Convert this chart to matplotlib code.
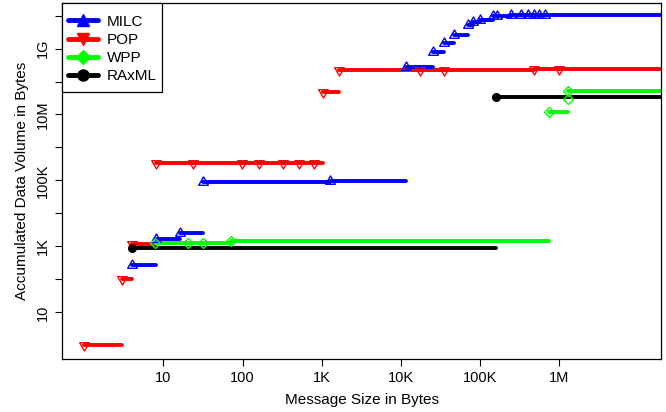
import matplotlib
matplotlib.use("Agg")
import matplotlib.pyplot as plt
import numpy as np
from matplotlib.lines import Line2D
from matplotlib.patches import Rectangle
from matplotlib.path import Path

plt.rcParams["font.family"] = ["Liberation Sans", "DejaVu Sans"]

# message size (bytes) where the accumulated volume steps up, and the volume after it
milc_size = [4, 8, 16, 32, 1270, 11.7e3, 25e3, 35e3, 47e3, 71e3, 82e3, 98e3,
             143e3, 163e3, 245e3, 325e3, 405e3, 480e3, 555e3, 660e3]
milc_volume = [275, 1.7e3, 2.6e3, 91e3, 93e3, 280e6, 790e6, 1.5e9, 2.6e9, 5.1e9,
               6.2e9, 7.2e9, 9.5e9, 1.0e10, 1.005e10, 1.01e10, 1.015e10, 1.02e10,
               1.025e10, 1.03e10]

pop_size = [1, 3, 4, 8.1, 23.9, 99, 161, 323, 523, 802, 1050, 1650,
            17.4e3, 35e3, 476e3, 980e3]
pop_volume = [1, 100, 1.2e3, 330e3, 332e3, 335e3, 338e3, 342e3, 346e3, 350e3,
              48e6, 224e6, 226e6, 228e6, 232e6, 236e6]

wpp_size = [7.9, 20.3, 32, 71, 745e3, 1.28e6, 1.3e6]
wpp_volume = [1.28e3, 1.3e3, 1.31e3, 1.5e3, 12e6, 30e6, 52e6]

raxml_size = [4, 157e3]
raxml_volume = [910, 35e6]

x_ticks = [10, 100, 1e3, 1e4, 1e5, 1e6]
x_labels = ["10", "100", "1K", "10K", "100K", "1M"]
y_ticks = [10.0 ** k for k in range(1, 11)]
y_labels = ["10", "", "1K", "", "100K", "", "10M", "", "1G", ""]

X_END = 1e8  # last step runs off the right edge

# R-style triangles: centre sits a third of the way up
tri_up = Path([(0, 1), (-0.866, -0.5), (0.866, -0.5), (0, 1)],
              [Path.MOVETO, Path.LINETO, Path.LINETO, Path.CLOSEPOLY])
tri_down = Path([(0, -1), (-0.866, 0.5), (0.866, 0.5), (0, -1)],
                [Path.MOVETO, Path.LINETO, Path.LINETO, Path.CLOSEPOLY])

series = [
    ("POP", pop_size, pop_volume, "#ff0000", tri_down, 8, "none"),
    ("MILC", milc_size, milc_volume, "#0000ff", tri_up, 8, "none"),
    ("WPP", wpp_size, wpp_volume, "#00ff00", "D", 5.5, "none"),
    ("RAxML", raxml_size, raxml_volume, "#000000", "o", 5.5, "#000000"),
]


def steps(xs, ys):
    # horizontal pieces only: each volume holds until the next size
    ends = list(xs[1:]) + [X_END]
    px, py = [], []
    for x0, x1, y in zip(xs, ends, ys):
        px += [x0, x1, np.nan]
        py += [y, y, np.nan]
    return px, py


fig = plt.figure(figsize=(6.66, 4.12), dpi=100)
ax = fig.add_axes([62.3 / 666, 53.5 / 412, 598.4 / 666, 355.8 / 412])
ax.set_xscale("log")
ax.set_yscale("log")

for name, xs, ys, color, marker, ms, face in series:
    px, py = steps(xs, ys)
    ax.plot(px, py, color=color, lw=2.8, solid_capstyle="round", zorder=2)
    ax.plot(xs, ys, ls="none", marker=marker, ms=ms, mec=color, mfc=face,
            mew=1.0, zorder=3)

ax.set_xlim(0.53, 1.9e7)
ax.set_ylim(0.40, 2.45e10)

ax.set_xticks(x_ticks)
ax.set_xticklabels(x_labels)
ax.set_yticks(y_ticks)
ax.set_yticklabels(y_labels, rotation=90, va="center")
ax.minorticks_off()
ax.tick_params(axis="both", length=5, width=0.8, labelsize=10.5, pad=4,
               direction="out")
for sp in ax.spines.values():
    sp.set_linewidth(0.9)

ax.set_xlabel("Message Size in Bytes", fontsize=11)
ax.xaxis.label.set_va("center")
ax.xaxis.set_label_coords(0.5, (12 - 53.5) / 355.8)
ax.set_ylabel("Accumulated Data Volume in Bytes", fontsize=11)
ax.yaxis.label.set_va("center")
ax.yaxis.set_label_coords((22 - 62.3) / 598.4, 0.5)

legend_marks = {"MILC": "^", "POP": "v", "WPP": "D", "RAxML": "o"}
handles = []
for name in ["MILC", "POP", "WPP", "RAxML"]:
    color = [s[3] for s in series if s[0] == name][0]
    handles.append(Line2D([], [], color=color, lw=3.5, marker=legend_marks[name],
                          ms=8 if name != "WPP" else 7, mfc=color, mec=color,
                          solid_capstyle="round"))
leg = ax.legend(handles, ["MILC", "POP", "WPP", "RAxML"], loc="upper left",
                bbox_to_anchor=(0.0087, 0.9665), borderaxespad=0, borderpad=0,
                fontsize=11, handlelength=2.0, handletextpad=0.6,
                labelspacing=0.28, frameon=False)
leg.set_zorder(6)

# legend box, drawn separately so its padding can be set per side
box = Rectangle((0, (358.5 - 92) / 355.8), (162 - 62.3) / 598.4,
                1 - (358.5 - 92) / 355.8, transform=ax.transAxes,
                facecolor="white", edgecolor="black", lw=0.9, zorder=5,
                clip_on=False)
ax.add_patch(box)

fig.savefig("out.png", dpi=100)
